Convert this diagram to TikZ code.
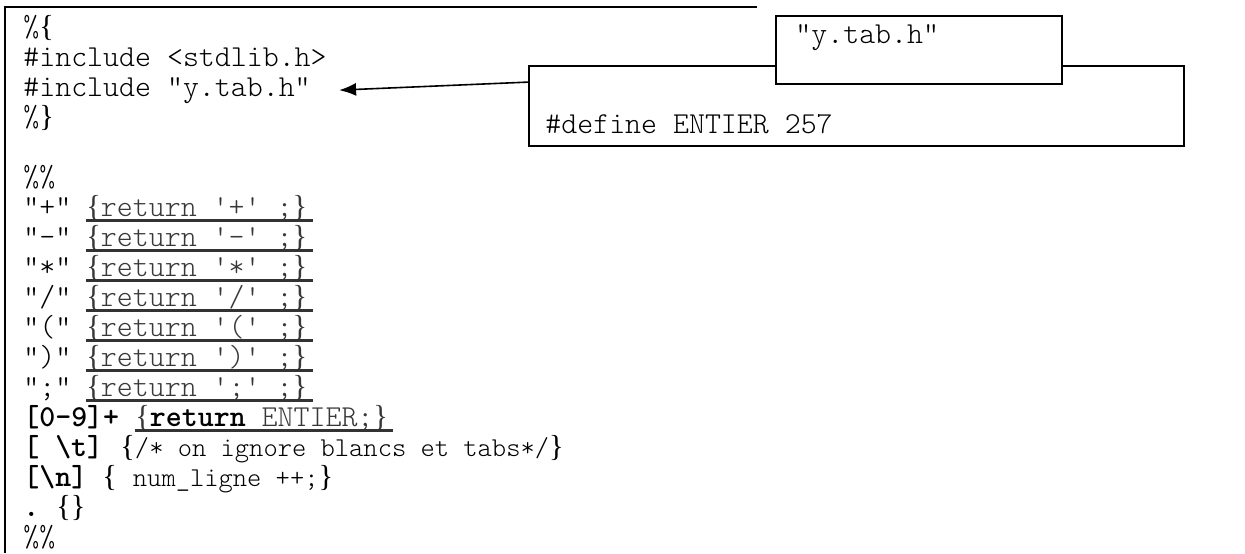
\documentclass[tikz,border=0pt]{standalone}
\usepackage{fontspec}
\setmonofont{lmmonolt10-regular}[Extension=.otf, BoldFont=lmmonolt10-bold]
\newfontfamily\bracefont{Liberation Serif}
\usepackage{xcolor}
\usetikzlibrary{arrows.meta, positioning}

\definecolor{actgray}{gray}{0.22}
\definecolor{linegray}{gray}{0.2}

\newcommand\opbr{{\bracefont\{}}
\newcommand\clbr{{\bracefont\}}}
\newcommand\sq{\textquotesingle}
\newcommand\narrowtt{\fontsize{13.6}{15}\selectfont}

\begin{document}
\begin{tikzpicture}[
    x=0.5pt, y=-0.5pt,
    >=Latex,
    every node/.style={font=\ttfamily\fontsize{15.2}{17}\selectfont, inner sep=0pt, anchor=base west},
    frame/.style={line width=1.3pt},
    hbox/.style={
      rectangle, draw=black, line width=1.1pt, fill=white,
      anchor=north west
    },
    act/.style={text=actgray},
    uline/.style={line width=1.65pt, linegray},
    arr/.style={-{Latex[length=8.5pt, width=6.5pt]}, line width=0.8pt}
  ]
    \useasboundingbox (0,0) rectangle (1245,553);

    % open frame of the lex file
    \draw[frame] (757,7) -- (5,7) -- (5,553);

    % header file boxes
    \node[hbox, minimum width=327.5pt, minimum height=40pt] (defbox) at (528,65) {};
    \node[hbox, minimum width=143pt, minimum height=34pt] (namebox) at (775,15) {};
    \node (hname) at (795,43) {"y.tab.h"};
    \node (hdef)  at (545,133) {\#define ENTIER 257};

    % declarations
    \node (l0) at (23,36)  {\%\opbr};
    \node (l1) at (23,66)  {\#include <stdlib.h>};
    \node (l2) at (23,96)  {\#include "y.tab.h"};
    \node (l3) at (23,126) {\%\clbr};

    \draw[arr] ([yshift=12pt]defbox.west) -- ([xshift=14pt]l2.east);

    % rules
    \node (l5) at (23,186) {\%\%};

    \node (p6) at (23,216) {"+"};
    \node[act] (a6) at (86,216) {\opbr return \sq+\sq{} ;\clbr};
    \draw[uline] (a6.south west) -- ([xshift=2.5pt]a6.south east);

    \node (p7) at (23,246) {"-"};
    \node[act] (a7) at (86,246) {\opbr return \sq-\sq{} ;\clbr};
    \draw[uline] (a7.south west) -- ([xshift=2.5pt]a7.south east);

    \node (p8) at (23,276) {"*"};
    \node[act] (a8) at (86,276) {\opbr return \sq*\sq{} ;\clbr};
    \draw[uline] (a8.south west) -- ([xshift=2.5pt]a8.south east);

    \node (p9) at (23,306) {"/"};
    \node[act] (a9) at (86,306) {\opbr return \sq/\sq{} ;\clbr};
    \draw[uline] (a9.south west) -- ([xshift=2.5pt]a9.south east);

    \node (p10) at (23,336) {"("};
    \node[act] (a10) at (86,336) {\opbr return \sq(\sq{} ;\clbr};
    \draw[uline] (a10.south west) -- ([xshift=2.5pt]a10.south east);

    \node (p11) at (23,366) {")"};
    \node[act] (a11) at (86,366) {\opbr return \sq)\sq{} ;\clbr};
    \draw[uline] (a11.south west) -- ([xshift=2.5pt]a11.south east);

    \node (p12) at (23,396) {";"};
    \node[act] (a12) at (86,396) {\opbr return \sq;\sq{} ;\clbr};
    \draw[uline] (a12.south west) -- ([xshift=2.5pt]a12.south east);

    \node (p13) at (23,426) {\textbf{[0-9]+}};
    \node[act] (a13) at (135,426) {\opbr\textcolor{black}{\textbf{return}} ENTIER;\clbr};
    \draw[uline] (a13.south west) -- ([xshift=2.5pt]a13.south east);

    \node (p14) at (23,456) {\textbf{[ \textbackslash t]}};
    \node (a14) at (120,456) {\opbr{\narrowtt/* on ignore blancs et tabs*/}\clbr};

    \node (p15) at (23,486) {\textbf{[\textbackslash n]}};
    \node (a15) at (102,486) {\opbr{} {\narrowtt num\_ligne ++;}\clbr};

    \node (p16) at (23,516) {\textbf{.}};
    \node (a16) at (56,516) {\opbr\clbr};

    \node (l17) at (23,546) {\%\%};

  \end{tikzpicture}
\end{document}
